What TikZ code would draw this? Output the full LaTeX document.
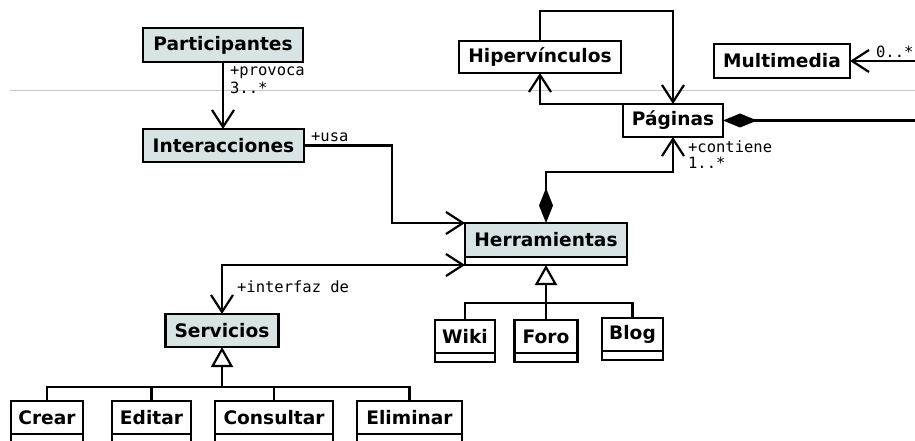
\documentclass[tikz,border=0pt]{standalone}
\usepackage{fontspec}
\setmainfont{DejaVu Sans}
\setmonofont{DejaVu Sans Mono}
\usetikzlibrary{arrows.meta,positioning}

\definecolor{clsfill}{RGB}{216,228,228}
\definecolor{pagerule}{RGB}{200,200,200}
\newcommand{\clsfont}{\fontsize{18.6}{21}\selectfont\bfseries}
\newcommand{\rolefont}{\fontsize{15.5}{18}\selectfont\ttfamily}

\tikzset{
  cls/.style={draw, line width=2.2pt, outer sep=0pt, inner sep=0pt, fill=white,
    font=\clsfont, minimum height=33pt},
  tool/.style={cls, fill=clsfill},
  comp/.style={draw, line width=2.2pt, outer sep=0pt, inner sep=0pt, fill=white,
    minimum height=8pt},
  role/.style={font=\rolefont, inner sep=0pt, anchor=base west},
  gen/.style={-{Triangle[open, length=20pt, width=22pt, fill=white]}},
}

\begin{document}
\begin{tikzpicture}[>={Straight Barb[length=17pt,width=22pt]}, x=1pt, y=-1pt, line width=2.2pt]
  \useasboundingbox (0,0) rectangle (915,441);
  \draw[pagerule, line width=1pt] (10,90.5) -- (915,90.5);

  % clases
  \node[tool, minimum width=160pt, minimum height=34pt] (part)  at (223,45)    {Participantes};
  \node[tool, minimum width=161pt]                     (inter) at (223.5,145.5) {Interacciones};
  \node[tool, minimum width=162pt, minimum height=34pt] (herr)  at (546,240)   {Herramientas};
  \node[comp, minimum width=162pt] (herrc) [below=0pt of herr] {};
  \node[tool, minimum width=113pt]                     (serv)  at (222,330.5)  {Servicios};

  \node[cls, minimum width=162pt, minimum height=32pt] (hiper) at (540,57)    {Hipervínculos};
  \node[cls, minimum width=100pt]                     (pag)   at (673,120.5) {Páginas};
  \node[cls, minimum width=136pt, minimum height=34pt] (mm)    at (782,61)    {Multimedia};

  \node[cls, minimum width=60pt]  (wiki)  at (465,336.5)   {Wiki};
  \node[comp, minimum width=60pt, minimum height=9pt] (wikic) [below=0pt of wiki] {};
  \node[cls, minimum width=63pt]  (foro)  at (546,336.5)   {Foro};
  \node[comp, minimum width=63pt, minimum height=9pt] (foroc) [below=0pt of foro] {};
  \node[cls, minimum width=61pt]  (blog)  at (632.5,334.5) {Blog};
  \node[comp, minimum width=61pt, minimum height=9pt] (blogc) [below=0pt of blog] {};

  \node[cls, minimum width=72pt]  (crear) at (47,417.5)    {Crear};
  \node[comp, minimum width=72pt, minimum height=14pt] (crearc) [below=0pt of crear] {};
  \node[cls, minimum width=79pt]  (edit)  at (151.5,417.5) {Editar};
  \node[comp, minimum width=79pt, minimum height=14pt] (editc) [below=0pt of edit] {};
  \node[cls, minimum width=118pt] (cons)  at (274,417.5)   {Consultar};
  \node[comp, minimum width=118pt, minimum height=14pt] (consc) [below=0pt of cons] {};
  \node[cls, minimum width=105pt] (elim)  at (409.5,417.5) {Eliminar};
  \node[comp, minimum width=105pt, minimum height=14pt] (elimc) [below=0pt of elim] {};

  % asociaciones
  \draw[->] (part.south) -- (part.south |- inter.north);
  \node[role] (lprov) at (229,76) {+provoca};
  \node[role] (lprovm) at (229,94) {3..*};

  \draw[->] (inter.east) -- ++(88,0) |- (herr.north west);
  \node[role] (lusa) at (310,142) {+usa};

  \draw[<->] (herrc.south west) -| (serv.north);
  \node[role] (lint) at (236,292) {+interfaz de};

  \draw[{Diamond[length=35pt,width=14pt]}->] (herr.north) -- ++(0,-51) -| (pag.south);
  \node[role] (lcont) at (687,152) {+contiene};
  \node[role] (lcontm) at (687,168) {1..*};

  \draw[->] (hiper.north) -- ++(0,-30) -| (pag.north);
  \draw[->] (pag.north west) -| (hiper.south);

  \coordinate (pagend) at (920,120.5);
  \draw[{Diamond[length=34pt,width=14pt]}-] (pag.east) -- (pagend);

  \coordinate (mmend) at (920,61);
  \draw[->] (mmend) -- (mm.east);
  \node[role] (lmm) at (875,58) {0..*};

  % herencia
  \coordinate (hj) at (546,303);
  \draw (wiki.north) |- (hj) -| (blog.north);
  \draw[gen] (foro.north) -- (herrc.south);

  \coordinate (sj) at (222,387);
  \draw (crear.north) |- (sj) -| (elim.north);
  \draw (edit.north) -- (edit.north |- sj);
  \draw (cons.north) -- (cons.north |- sj);
  \draw[gen] (sj) -- (serv.south);
\end{tikzpicture}
\end{document}
